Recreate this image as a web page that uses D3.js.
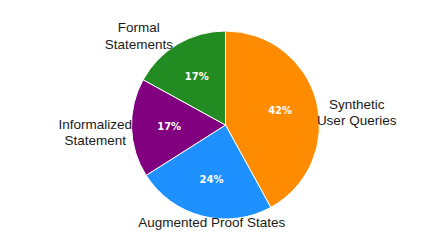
<!DOCTYPE html>
<html>
<head>
<meta charset="utf-8">
<script src="https://cdn.jsdelivr.net/npm/d3@7"></script>
<style>
  body { margin: 0; background: #fff; }
  .lbl { font-family: "Liberation Sans", Arial, sans-serif; font-size: 13.5px; fill: #1a1a1a; }
  .pct { font-family: "DejaVu Sans", sans-serif; font-size: 10px; font-weight: bold; fill: #fff; }
</style>
</head>
<body>
<div id="chart"></div>
<script>
var width = 448
var height = 252

// data
var categories = ['Synthetic\nUser Queries', 'Augmented Proof States', 'Informalized\nStatement', 'Formal\nStatements']
var shares = [42, 24, 17, 17]
var colors = ['#ff8c00', '#1e90ff', '#800080', '#228b22']

// layout tweaks for the outer labels (pixels)
var labelShift = [[31, 13], [12, -3], [-27, 4], [-34, 0]]

var cx = 225.5, cy = 125, radius = 94
var lineH = 16.5

var svg = d3.select('#chart')
  .append('svg')
  .attr('width', width)
  .attr('height', height)

var g = svg.append('g')
  .attr('transform', 'translate(' + cx + ',' + cy + ')')

var pie = d3.pie().sort(null).value(function(d) { return d })
var arcs = pie(shares)

var arc = d3.arc().innerRadius(0).outerRadius(radius)
var pctArc = d3.arc().innerRadius(radius * 0.6).outerRadius(radius * 0.6)
var labelArc = d3.arc().innerRadius(radius * 1.1).outerRadius(radius * 1.1)

g.selectAll('path')
  .data(arcs)
  .enter().append('path')
    .attr('d', arc)
    .attr('fill', function(d, i) { return colors[i] })
    .attr('stroke', '#fff')
    .attr('stroke-width', 1)

g.selectAll('text.pct')
  .data(arcs)
  .enter().append('text')
    .attr('class', 'pct')
    .attr('text-anchor', 'middle')
    .attr('x', function(d) { return pctArc.centroid(d)[0] })
    .attr('y', function(d) { return pctArc.centroid(d)[1] })
    .attr('dy', '0.35em')
    .text(function(d) { return d.value + '%' })

arcs.forEach(function(d, i) {
  var p = labelArc.centroid(d)
  var x = p[0] + labelShift[i][0]
  var y = p[1] + labelShift[i][1]
  var lines = categories[i].split('\n')
  var t = g.append('text')
    .attr('class', 'lbl')
    .attr('text-anchor', 'middle')
  lines.forEach(function(s, j) {
    t.append('tspan')
      .attr('x', x)
      .attr('y', y - (lines.length - 1) * lineH / 2 + j * lineH + 4.7)
      .text(s)
  })
})
</script>
</body>
</html>
